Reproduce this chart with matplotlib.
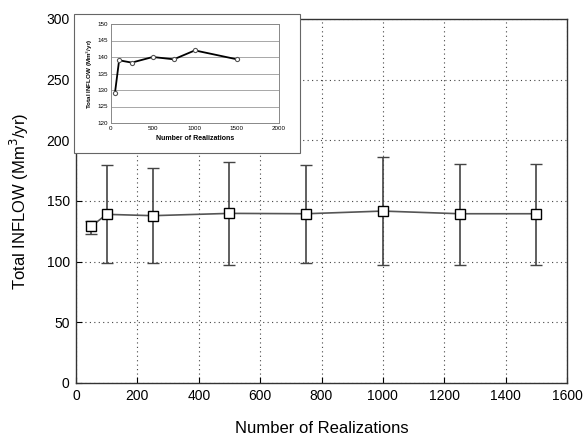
import matplotlib
matplotlib.use("Agg")
import matplotlib.pyplot as plt
from matplotlib.patches import Rectangle

plt.rcParams['font.family'] = ['Liberation Sans', 'DejaVu Sans']

# Main chart data
realizations = [50, 100, 250, 500, 750, 1000, 1250, 1500]
mean_inflow = [129.2, 139.0, 137.9, 139.8, 139.5, 141.7, 139.5, 139.5]
upper_inflow = [133.8, 179.3, 177.2, 181.8, 179.3, 186.4, 180.7, 180.7]
lower_inflow = [122.6, 98.7, 98.7, 97.0, 98.7, 97.0, 97.0, 97.0]

# Inset data
inset_x = [50, 100, 250, 500, 750, 1000, 1500]
inset_y = [129.0, 139.0, 138.3, 140.0, 139.3, 142.0, 139.3]

x_ticks = [0, 200, 400, 600, 800, 1000, 1200, 1400, 1600]
y_ticks = [0, 50, 100, 150, 200, 250, 300]
inset_xticks = [0, 500, 1000, 1500, 2000]
inset_yticks = [120, 125, 130, 135, 140, 145, 150]

fig = plt.figure(figsize=(5.84, 4.37), dpi=100)
ax = fig.add_axes([76/584, 1-383/437, (567-76)/584, (383-19)/437])

yerr = [[m - l for m, l in zip(mean_inflow, lower_inflow)],
        [u - m for m, u in zip(mean_inflow, upper_inflow)]]
ax.errorbar(realizations, mean_inflow, yerr=yerr, color='#555555', lw=1.2,
            ecolor='#444444', elinewidth=1.2, capsize=4.5, capthick=1.2,
            marker='s', ms=6.5, mfc='white', mec='black', mew=1.0, zorder=3)

ax.set_xlim(0, 1600)
ax.set_ylim(0, 300)
ax.set_xticks(x_ticks)
ax.set_yticks(y_ticks)
ax.grid(True, color='#444444', linestyle=(0, (1, 3)), lw=0.8)
ax.tick_params(direction='in', labelsize=10, length=4, pad=4.5)
for s in ax.spines.values():
    s.set_color('#333333')
    s.set_linewidth(1.0)
ax.set_xlabel('Number of Realizations', fontsize=12, labelpad=12.5)
ax.set_ylabel('Total INFLOW (Mm$^3$/yr)', fontsize=12, labelpad=11)

# Inset background box
rect = Rectangle((74/584, 1-153/437), (300-74)/584, (153-14)/437,
                 transform=fig.transFigure, facecolor='white',
                 edgecolor='#666666', lw=0.8, zorder=1)
fig.add_artist(rect)

ins = fig.add_axes([110.7/584, 1-123/437, (279-110.7)/584, (123-24)/437], zorder=2)
ins.plot(inset_x, inset_y, color='black', lw=1.3, marker='o', ms=3,
         mfc='white', mec='#555555', mew=0.8)
ins.set_xlim(0, 2000)
ins.set_ylim(120, 150)
ins.set_xticks(inset_xticks)
ins.set_yticks(inset_yticks)
ins.yaxis.grid(True, color='#999999', lw=0.6)
ins.set_axisbelow(True)
ins.tick_params(labelsize=4.5, length=0, pad=2)
for s in ins.spines.values():
    s.set_color('#888888')
    s.set_linewidth(0.7)
ins.set_xlabel('Number of Realizations', fontsize=5, fontweight='bold', labelpad=3)
ins.set_ylabel('Total INFLOW (Mm$^3$/yr)', fontsize=4.5, fontweight='bold', labelpad=2)

fig.savefig('out.png', dpi=100)
